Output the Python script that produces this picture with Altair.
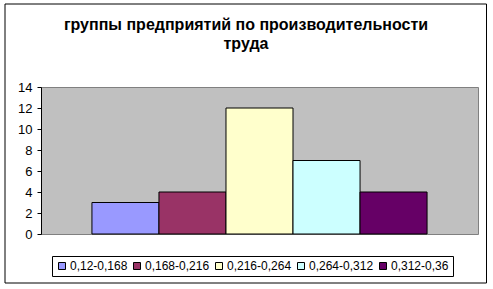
import altair as alt
import pandas as pd

# Data
groups = ["0,12-0,168", "0,168-0,216", "0,216-0,264", "0,264-0,312", "0,312-0,36"]
counts = [3, 4, 12, 7, 4]
colors = ["#9999FF", "#993366", "#FFFFCC", "#CCFFFF", "#660066"]
y_ticks = [0, 2, 4, 6, 8, 10, 12, 14]
title_lines = ["группы предприятий по производительности", "труда"]

df = pd.DataFrame({"group": groups, "count": counts})

FONT = "Liberation Sans"

bars = alt.Chart(df).mark_bar(stroke="black", strokeWidth=1).encode(
    x=alt.X("group:N", sort=groups, axis=None,
            scale=alt.Scale(paddingInner=0, paddingOuter=0.76)),
    y=alt.Y("count:Q",
            scale=alt.Scale(domain=[0, 14], nice=False),
            axis=alt.Axis(values=y_ticks, title=None, grid=False,
                          domainColor="black", tickColor="black", tickSize=4,
                          labelPadding=5, labelFont=FONT, labelFontSize=13,
                          labelColor="black")),
    color=alt.Color("group:N", sort=groups,
                    scale=alt.Scale(domain=groups, range=colors),
                    legend=alt.Legend(
                        title=None, orient="none", legendX=11, legendY=169,
                        direction="horizontal", columns=5, gridAlign="each",
                        strokeColor="black", fillColor="white", padding=4,
                        symbolType="square", symbolSize=49,
                        symbolStrokeColor="black", symbolStrokeWidth=1,
                        symbolOpacity=1, labelFont=FONT, labelFontSize=12,
                        labelColor="black", labelOffset=2, columnPadding=3)),
)

meta = pd.DataFrame({"f": [0]})

frame = alt.Chart(meta).mark_rect(
    fill="transparent", stroke="black", strokeWidth=1
).encode(
    x=alt.value(-36), x2=alt.value(445.5), y=alt.value(-83), y2=alt.value(196)
)

title = alt.Chart(meta).mark_text(
    text=title_lines, font=FONT, fontSize=16, fontWeight="bold",
    color="black", align="center", baseline="alphabetic", lineHeight=19
).encode(x=alt.value(205), y=alt.value(-57))

chart = alt.layer(bars, frame, title).properties(
    width=437,
    height=147,
    padding={"left": 41, "top": 87, "right": 15, "bottom": 55},
    autosize=alt.AutoSizeParams(type="none"),
    background="white",
).configure_view(fill="#C0C0C0", stroke="#808080", strokeWidth=1)

chart.save("out.html", embed_options={"renderer": "svg", "actions": False})
